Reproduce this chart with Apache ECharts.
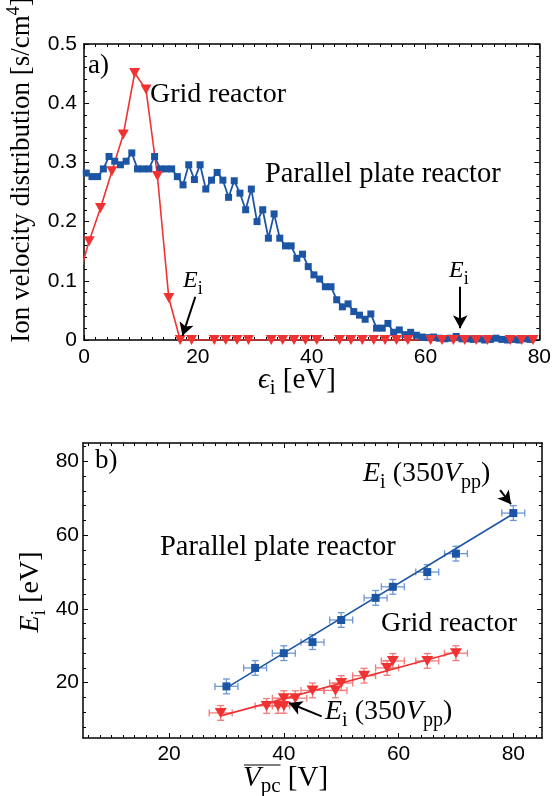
<!DOCTYPE html>
<html>
<head>
<meta charset="utf-8">
<script src="https://cdn.jsdelivr.net/npm/echarts@6/dist/echarts.min.js"></script>
<style>
html, body { margin: 0; padding: 0; background: #fff; }
#chart { width: 554px; height: 796px; }
</style>
</head>
<body>
<div id="chart"></div>
<script>
// ---- (a) ion velocity distribution vs ion energy ----
const ppEnergy = [0.4, 1.4, 2.4, 3.4, 4.4, 5.4, 6.4, 7.4, 8.4, 9.4,
  10.4, 11.4, 12.4, 13.4, 14.4, 15.4, 16.4, 17.4, 18.4, 19.4,
  20.4, 21.4, 22.4, 23.4, 24.4, 25.4, 26.4, 27.4, 28.4, 29.4,
  30.4, 31.4, 32.4, 33.4, 34.4, 35.4, 36.4, 37.4, 38.4, 39.4,
  40.4, 41.4, 42.4, 43.4, 44.4, 45.4, 46.4, 47.4, 48.4, 49.4,
  50.4, 51.4, 52.4, 53.4, 54.4, 55.4, 56.4, 57.4, 58.4, 59.4,
  60.4, 61.4, 62.4, 63.4, 64.4, 65.4, 66.4, 67.4, 68.4, 69.4,
  70.4, 71.4, 72.4, 73.4, 74.4, 75.4, 76.4, 77.4, 78.4];
const ppDist = [0.282, 0.276, 0.276, 0.289, 0.310, 0.302, 0.296, 0.302, 0.316, 0.289,
  0.289, 0.289, 0.310, 0.289, 0.289, 0.289, 0.276, 0.262, 0.296, 0.271,
  0.296, 0.255, 0.270, 0.283, 0.270, 0.241, 0.269, 0.248, 0.220, 0.255,
  0.200, 0.220, 0.172, 0.213, 0.172, 0.159, 0.159, 0.138, 0.145, 0.124,
  0.110, 0.103, 0.090, 0.090, 0.068, 0.056, 0.061, 0.048, 0.042, 0.035,
  0.044, 0.020, 0.020, 0.028, 0.013, 0.017, 0.009, 0.013, 0.008, 0.005,
  0.004, 0.005, 0.003, 0.002, 0.003, 0.006, 0.002, 0.002, 0.001, 0.002,
  0.000, 0.001, 0.003, 0.001, 0.000, 0.001, 0.000, 0.002, 0.001];
const gridEnergy = [-1.1, 0.9, 2.9, 4.9, 6.9, 8.9, 10.9, 12.9, 14.9, 16.9, 18.9,
  22.9, 24.9, 26.9, 28.9, 32.9, 34.9, 36.9, 38.9, 40.9,
  44.9, 46.9, 48.9, 50.9, 52.9, 54.9, 56.9,
  60.9, 62.9, 64.9, 66.9, 68.9, 70.9, 74.9, 76.9, 78.9];
const gridDist = [0.100, 0.167, 0.223, 0.285, 0.347, 0.451, 0.423, 0.277, 0.071, 0, 0,
  0, 0, 0, 0, 0, 0, 0, 0, 0,
  0, 0, 0, 0, 0, 0, 0,
  0, 0, 0, 0, 0, 0, 0, 0, 0];
const energyTicks = [0, 20, 40, 60, 80];
const distTicks = [0, 0.1, 0.2, 0.3, 0.4, 0.5];

// ---- (b) ion energy vs mean plasma potential ----
const ppVpc = [30, 35, 40, 45, 50, 56, 59, 65, 70, 80];
const ppEi = [19.0, 24.0, 28.0, 31.0, 37.0, 43.0, 46.0, 50.0, 55.0, 66.0];
const ppVpcErr = [2, 2, 2, 2, 2, 2, 2, 2, 2, 2];
const ppEiErr = [2, 2, 2, 2, 2, 2, 2, 2, 2, 2];
const ppFitVpc = [30, 80];
const ppFitEi = [18.6, 65.8];
const gridVpc = [29, 37, 39, 40, 40, 42, 45, 49, 50, 54, 58, 59, 65, 70];
const gridEi = [11.8, 13.7, 13.7, 13.7, 15.8, 15.8, 17.9, 17.9, 19.9, 21.9, 24.0, 25.9, 25.9, 28.0];
const gridVpcErr = [2, 2, 2, 2, 2, 2, 2, 2, 2, 2, 2, 2, 2, 2];
const gridEiErr = [2, 2, 2, 2, 2, 2, 2, 2, 2, 2, 2, 2, 2, 2];
const gridFitVpc = [29, 70];
const gridFitEi = [11.0, 28.3];
const vpcTicks = [20, 40, 60, 80];
const eiTicks = [20, 40, 60, 80];

const BLUE = '#1d55a5';
const BLUE_ERR = '#6b97d4';
const RED = '#f03232';
const RED_ERR = '#f37a7a';
const SERIF = '"Liberation Serif", "Times New Roman", serif';
const SANS = '"Liberation Sans", Arial, sans-serif';

const zip = (xs, ys) => xs.map((x, i) => [x, ys[i]]);
const zip4 = (xs, ys, exs, eys) => xs.map((x, i) => [x, ys[i], exs[i], eys[i]]);

// minor tick positions for panel (b)
const vpcMinor = [];
for (let v = 6; v <= 84; v += 2) if (v % 20 !== 0) vpcMinor.push(v);
const eiMinor = [];
for (let v = 8; v <= 84; v += 4) if (v % 20 !== 0) eiMinor.push(v);

const AXIS_LINE = { show: true, onZero: false, lineStyle: { color: '#000', width: 1.5 } };
const TICK_STYLE = { color: '#000', width: 1 };

function axis(gridIndex, position, min, max, o) {
  o = o || {};
  const a = {
    type: 'value', gridIndex, position, min, max,
    splitLine: { show: false },
    axisLine: o.noLine ? { show: false } : AXIS_LINE,
    axisTick: { show: true, inside: true, length: o.tickLen || 5, lineStyle: TICK_STYLE },
    axisLabel: { show: false },
    silent: true
  };
  if (o.interval != null) a.interval = o.interval;
  if (o.ticks) a.axisTick.customValues = o.ticks;
  if (o.minor) a.minorTick = { show: true, splitNumber: o.minor, length: 3, lineStyle: TICK_STYLE };
  if (o.labels) {
    a.axisLabel = {
      show: true, color: '#000', fontFamily: SANS, fontSize: 21,
      margin: o.margin, showMinLabel: true, showMaxLabel: true
    };
    if (o.labelValues) a.axisLabel.customValues = o.labelValues;
  }
  return a;
}

// error bars drawn in data space
function errorBars(color) {
  return function (params, api) {
    const x = api.value(0), y = api.value(1), ex = api.value(2), ey = api.value(3);
    const c = api.coord([x, y]);
    const xl = api.coord([x - ex, y])[0], xr = api.coord([x + ex, y])[0];
    const yt = api.coord([x, y + ey])[1], yb = api.coord([x, y - ey])[1];
    const cap = 3.5;
    const st = { stroke: color, lineWidth: 1.3 };
    const L = (x1, y1, x2, y2) => ({ type: 'line', shape: { x1, y1, x2, y2 }, style: st });
    return {
      type: 'group', children: [
        L(xl, c[1], xr, c[1]), L(xl, c[1] - cap, xl, c[1] + cap), L(xr, c[1] - cap, xr, c[1] + cap),
        L(c[0], yt, c[0], yb), L(c[0] - cap, yt, c[0] + cap, yt), L(c[0] - cap, yb, c[0] + cap, yb)
      ]
    };
  };
}

function arrows(pairs) {
  return {
    silent: true, animation: false,
    symbol: ['none', 'arrow'], symbolSize: [11, 13],
    label: { show: false },
    lineStyle: { color: '#000', width: 2, type: 'solid' },
    data: pairs.map(p => [{ coord: p[0] }, { coord: p[1] }])
  };
}

// serif text runs with italic pieces and subscripts, positioned on a baseline
const meas = document.createElement('canvas').getContext('2d');
function run(x, y, pieces, opt) {
  opt = opt || {};
  const children = [];
  let cx = 0;
  const spans = [];
  pieces.forEach(p => {
    const font = (p.it ? 'italic ' : '') + p.size + 'px ' + SERIF;
    meas.font = font;
    const w = meas.measureText(p.t).width;
    spans.push({ p, font, x0: cx, w });
    cx += w + (p.gap || 0);
  });
  const shift = opt.center ? -cx / 2 : 0;
  spans.forEach(s => {
    const mid = (s.p.dy || 0) - 0.3375 * s.p.size;
    children.push({
      type: 'text', x: s.x0 + shift, y: mid,
      style: {
        text: s.p.t, font: s.font, fill: '#000',
        align: 'left', verticalAlign: 'middle', textAlign: 'left', textVerticalAlign: 'middle'
      }
    });
  });
  if (opt.overline) {
    const a = spans[opt.overline[0]], b = spans[opt.overline[1]];
    children.push({
      type: 'line',
      shape: { x1: a.x0 + shift + 1, y1: opt.overline[2], x2: b.x0 + b.w + shift, y2: opt.overline[2] },
      style: { stroke: '#000', lineWidth: 1.2 }
    });
  }
  return { type: 'group', x, y, rotation: opt.rotation || 0, silent: true, children };
}
const T = (t, size, it, dy, gap) => ({ t, size, it, dy, gap });

const graphics = [
  run(88, 75, [T('a)', 27)]),
  run(150, 104, [T('Grid reactor', 28)]),
  run(265, 184, [T('Parallel plate reactor', 28.5)]),
  run(183, 289, [T('E', 24, true), T('i', 18, false, 6)]),
  run(449, 279, [T('E', 24, true), T('i', 18, false, 6)]),
  run(258, 390, [T('\u03f5', 29, true), T('i', 21, false, 6), T(' [eV]', 29)]),
  run(31, 170, [T('Ion velocity distribution [s/cm', 27), T('4', 18, false, -11), T(']', 27)], { rotation: Math.PI / 2, center: true }),

  run(95, 470, [T('b)', 27)]),
  run(363, 483, [T('E', 28, true), T('i', 20, false, 6, 7), T('(350', 28), T('V', 28, true), T('pp', 20, false, 6), T(')', 28)]),
  run(160, 557, [T('Parallel plate reactor', 28.5)]),
  run(381, 633, [T('Grid reactor', 28)]),
  run(325, 721, [T('E', 28, true), T('i', 20, false, 6, 7), T('(350', 28), T('V', 28, true), T('pp', 20, false, 6), T(')', 28)]),
  run(243, 788, [T('V', 29, true), T('pc', 21, false, 6), T(' [V]', 29)], { overline: [0, 1, -23] }),
  run(40, 592, [T('E', 28, true), T('i', 20, false, 6), T(' [eV]', 28)], { rotation: Math.PI / 2, center: true })
];

const option = {
  animation: false,
  backgroundColor: '#fff',
  grid: [
    { left: 84, top: 44, width: 458, height: 296 },
    { left: 83, top: 443, width: 459, height: 295 }
  ],
  xAxis: [
    axis(0, 'bottom', energyTicks[0], energyTicks[energyTicks.length - 1], { interval: 20, minor: 10, labels: true, margin: 7 }),
    axis(0, 'top', 0, 80, { interval: 20, minor: 10 }),
    axis(1, 'bottom', 5, 85, { ticks: vpcTicks, labels: true, labelValues: vpcTicks, margin: 6 }),
    axis(1, 'top', 5, 85, { ticks: vpcTicks }),
    axis(1, 'bottom', 5, 85, { ticks: vpcMinor, noLine: true, tickLen: 3 }),
    axis(1, 'top', 5, 85, { ticks: vpcMinor, noLine: true, tickLen: 3 })
  ],
  yAxis: [
    axis(0, 'left', distTicks[0], distTicks[distTicks.length - 1], { interval: 0.1, minor: 5, labels: true, margin: 7 }),
    axis(0, 'right', 0, 0.5, { interval: 0.1, minor: 5 }),
    axis(1, 'left', 5, 85, { ticks: eiTicks, labels: true, labelValues: eiTicks, margin: 4 }),
    axis(1, 'right', 5, 85, { ticks: eiTicks }),
    axis(1, 'left', 5, 85, { ticks: eiMinor, noLine: true, tickLen: 3 }),
    axis(1, 'right', 5, 85, { ticks: eiMinor, noLine: true, tickLen: 3 })
  ],
  series: [
    {
      name: 'Parallel plate reactor', type: 'line', xAxisIndex: 0, yAxisIndex: 0,
      data: zip(ppEnergy, ppDist), symbol: 'rect', symbolSize: 7, clip: true,
      itemStyle: { color: BLUE }, lineStyle: { color: BLUE, width: 1.8 }
    },
    {
      name: 'Grid reactor', type: 'line', xAxisIndex: 0, yAxisIndex: 0,
      data: zip(gridEnergy, gridDist), symbol: 'triangle', symbolRotate: 180, symbolSize: [11, 10], clip: true,
      itemStyle: { color: RED }, lineStyle: { color: RED, width: 1.6 },
      markLine: arrows([
        [[19.56, 0.073], [17.3, 0.007]],
        [[66.1, 0.090], [66.1, 0.020]]
      ])
    },
    {
      type: 'custom', xAxisIndex: 2, yAxisIndex: 2, renderItem: errorBars(BLUE_ERR),
      data: zip4(ppVpc, ppEi, ppVpcErr, ppEiErr), encode: { x: 0, y: 1 }, silent: true
    },
    {
      type: 'custom', xAxisIndex: 2, yAxisIndex: 2, renderItem: errorBars(RED_ERR),
      data: zip4(gridVpc, gridEi, gridVpcErr, gridEiErr), encode: { x: 0, y: 1 }, silent: true
    },
    {
      type: 'line', xAxisIndex: 2, yAxisIndex: 2, data: zip(ppFitVpc, ppFitEi), showSymbol: false,
      lineStyle: { color: BLUE, width: 1.6 }, silent: true
    },
    {
      type: 'line', xAxisIndex: 2, yAxisIndex: 2, data: zip(gridFitVpc, gridFitEi), showSymbol: false,
      lineStyle: { color: RED, width: 1.6 }, silent: true
    },
    {
      type: 'scatter', xAxisIndex: 2, yAxisIndex: 2, data: zip(ppVpc, ppEi),
      symbol: 'rect', symbolSize: 8, itemStyle: { color: BLUE, opacity: 1 }
    },
    {
      type: 'scatter', xAxisIndex: 2, yAxisIndex: 2, data: zip(gridVpc, gridEi),
      symbol: 'triangle', symbolRotate: 180, symbolSize: [12, 10], itemStyle: { color: RED, opacity: 1 },
      markLine: arrows([
        [[77.7, 72.2], [79.6, 68.4]],
        [[46.6, 10.85], [40.9, 14.5]]
      ])
    }
  ],
  graphic: graphics
};

const chart = echarts.init(document.getElementById('chart'));
chart.setOption(option);
</script>
</body>
</html>
